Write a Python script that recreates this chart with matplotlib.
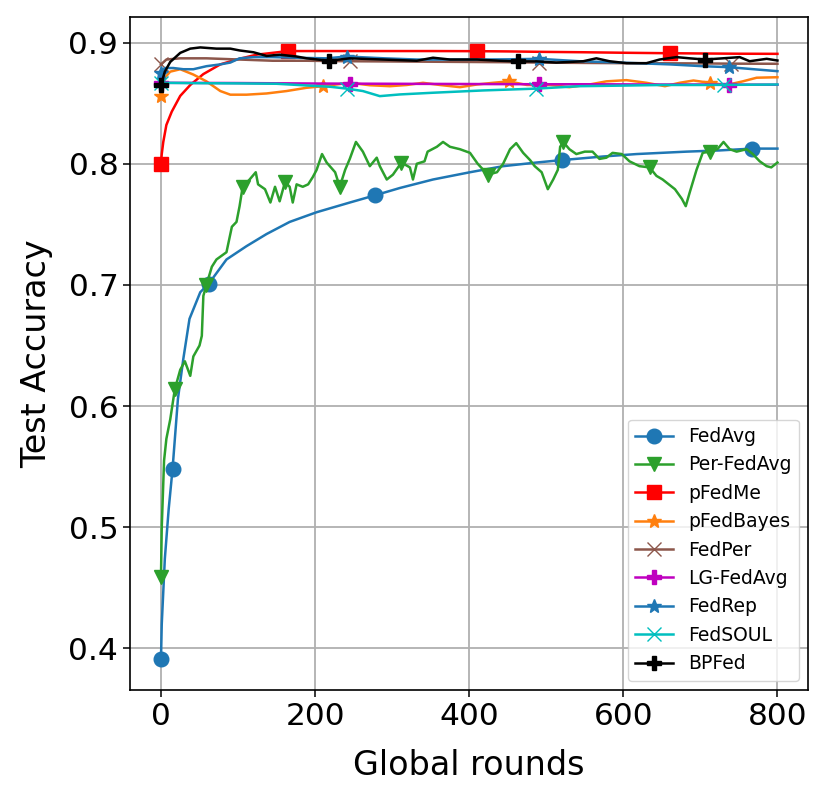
import matplotlib
matplotlib.use("Agg")
import matplotlib.pyplot as plt

# rondas y precision de cada metodo
x_fedavg = [0, 1, 5, 10, 15, 22, 29, 37, 51, 62, 85, 111, 137, 167, 202, 245, 278,
            310, 353, 401, 444, 487, 520, 574, 617, 682, 725, 767, 800]
y_fedavg = [0.391, 0.42, 0.474, 0.515, 0.548, 0.606, 0.639, 0.672, 0.694, 0.701, 0.721,
            0.732, 0.742, 0.752, 0.760, 0.768, 0.774, 0.780, 0.787, 0.793, 0.798, 0.801,
            0.803, 0.806, 0.808, 0.810, 0.811, 0.8125, 0.8125]

x_perfedavg = [0, 1, 4, 7, 12, 18, 25, 31, 38, 42, 50, 53, 55, 59, 66, 72, 85, 92, 98,
               102, 106, 115, 123, 126, 135, 142, 148, 154, 161, 167, 171, 176, 184, 191,
               197, 202, 209, 215, 226, 232, 239, 245, 253, 262, 271, 280, 284, 293, 301,
               312, 323, 327, 332, 342, 346, 358, 366, 375, 388, 401, 411, 424, 436, 444,
               453, 461, 470, 479, 485, 494, 502, 509, 515, 518, 522, 530, 539, 550, 560,
               569, 578, 586, 598, 608, 621, 634, 643, 651, 667, 676, 681, 686, 695, 703,
               712, 722, 730, 738, 747, 760, 768, 777, 786, 792, 800]
y_perfedavg = [0.459, 0.50, 0.555, 0.573, 0.589, 0.614, 0.630, 0.637, 0.625, 0.641, 0.650,
               0.658, 0.691, 0.700, 0.715, 0.721, 0.727, 0.748, 0.752, 0.765, 0.781, 0.787,
               0.793, 0.783, 0.779, 0.768, 0.781, 0.769, 0.785, 0.781, 0.768, 0.783, 0.781,
               0.783, 0.789, 0.795, 0.808, 0.801, 0.793, 0.781, 0.795, 0.804, 0.818, 0.810,
               0.798, 0.805, 0.798, 0.787, 0.791, 0.801, 0.797, 0.787, 0.800, 0.802, 0.810,
               0.814, 0.818, 0.814, 0.812, 0.809, 0.800, 0.791, 0.793, 0.800, 0.812, 0.817,
               0.809, 0.803, 0.798, 0.793, 0.779, 0.787, 0.795, 0.814, 0.818, 0.812, 0.808,
               0.810, 0.810, 0.804, 0.805, 0.809, 0.808, 0.802, 0.798, 0.797, 0.790, 0.787,
               0.779, 0.771, 0.765, 0.776, 0.795, 0.809, 0.810, 0.812, 0.818, 0.812, 0.810,
               0.812, 0.808, 0.802, 0.798, 0.797, 0.801]
# rondas donde aparecen los triangulos de Per-FedAvg (la curva original es mas ruidosa)
marcas_perfedavg = [0, 18, 59, 106, 161, 232, 312, 424, 522, 634, 712]

x_pfedme = [0, 1, 3, 7, 14, 25, 38, 55, 77, 98, 124, 165, 200, 250, 300, 350, 410, 450,
            500, 550, 600, 660, 700, 750, 800]
y_pfedme = [0.800, 0.808, 0.818, 0.832, 0.843, 0.856, 0.865, 0.874, 0.882, 0.886, 0.890,
            0.893, 0.893, 0.893, 0.893, 0.893, 0.8929, 0.8927, 0.8923, 0.892, 0.8916,
            0.8912, 0.891, 0.8908, 0.8907]

x_pfedbayes = [0, 5, 12, 25, 42, 59, 77, 90, 111, 137, 163, 189, 210, 245, 271, 297, 319,
               340, 362, 388, 410, 431, 451, 475, 505, 530, 556, 578, 604, 630, 654, 673,
               691, 712, 734, 755, 773, 800]
y_pfedbayes = [0.8555, 0.871, 0.876, 0.878, 0.8736, 0.868, 0.860, 0.857, 0.857, 0.858,
               0.860, 0.8627, 0.864, 0.8668, 0.8648, 0.864, 0.865, 0.8668, 0.865, 0.8632,
               0.8654, 0.8668, 0.868, 0.865, 0.865, 0.8632, 0.8654, 0.868, 0.869, 0.8668,
               0.864, 0.8668, 0.8687, 0.8668, 0.865, 0.868, 0.871, 0.8714]

x_fedper = [0, 7, 25, 59, 102, 145, 189, 245, 300, 350, 400, 450, 490, 550, 600, 650,
            700, 740, 800]
y_fedper = [0.882, 0.886, 0.887, 0.887, 0.886, 0.885, 0.885, 0.8846, 0.8844, 0.8842,
            0.884, 0.8838, 0.8835, 0.8832, 0.883, 0.8829, 0.8828, 0.8826, 0.8825]

x_lgfedavg = [0, 50, 100, 150, 200, 245, 300, 350, 400, 450, 490, 550, 600, 650, 700,
              737, 800]
y_lgfedavg = [0.8668, 0.8667, 0.8666, 0.8664, 0.8662, 0.8661, 0.866, 0.8659, 0.8658,
              0.8657, 0.8656, 0.8656, 0.8655, 0.8654, 0.8654, 0.8653, 0.8652]

x_fedrep = [0, 5, 16, 29, 42, 59, 77, 90, 102, 120, 145, 180, 215, 241, 290, 332, 375,
            418, 455, 490, 543, 573, 617, 660, 703, 737, 773, 800]
y_fedrep = [0.875, 0.879, 0.879, 0.878, 0.878, 0.8805, 0.882, 0.8835, 0.887, 0.888,
            0.888, 0.8874, 0.887, 0.8885, 0.887, 0.886, 0.886, 0.886, 0.8862, 0.8866,
            0.8846, 0.884, 0.883, 0.882, 0.8805, 0.8797, 0.8778, 0.8764]

x_fedsoul = [0, 50, 100, 150, 189, 220, 241, 262, 284, 310, 353, 418, 487, 543, 600,
             650, 700, 730, 765, 800]
y_fedsoul = [0.8668, 0.8665, 0.8663, 0.866, 0.8646, 0.8635, 0.862, 0.860, 0.8558, 0.8572,
             0.8586, 0.8605, 0.862, 0.864, 0.8645, 0.865, 0.865, 0.8651, 0.8652, 0.8654]

x_bpfed = [0, 5, 12, 25, 38, 51, 72, 90, 102, 120, 137, 154, 176, 189, 218, 245, 288,
           332, 353, 375, 410, 440, 463, 487, 513, 530, 548, 565, 582, 604, 630, 647,
           669, 686, 706, 729, 751, 764, 786, 800]
y_bpfed = [0.865, 0.876, 0.884, 0.8915, 0.895, 0.896, 0.895, 0.895, 0.8935, 0.892, 0.889,
           0.890, 0.8885, 0.887, 0.885, 0.887, 0.886, 0.885, 0.8875, 0.886, 0.886, 0.885,
           0.8845, 0.8845, 0.8835, 0.884, 0.8846, 0.887, 0.8846, 0.883, 0.883, 0.886,
           0.888, 0.887, 0.886, 0.887, 0.888, 0.8846, 0.8866, 0.8852]

series = [
    ("FedAvg", x_fedavg, y_fedavg, "#1f77b4", "o", 0.2),
    ("Per-FedAvg", x_perfedavg, y_perfedavg, "#2ca02c", "v",
     [x_perfedavg.index(r) for r in marcas_perfedavg]),
    ("pFedMe", x_pfedme, y_pfedme, "red", "s", 0.2),
    ("pFedBayes", x_pfedbayes, y_pfedbayes, "#ff7f0e", "*", 0.2),
    ("FedPer", x_fedper, y_fedper, "#8c564b", "x", 0.2),
    ("LG-FedAvg", x_lgfedavg, y_lgfedavg, "m", "P", 0.2),
    ("FedRep", x_fedrep, y_fedrep, "#1f77b4", "*", 0.2),
    ("FedSOUL", x_fedsoul, y_fedsoul, "c", "x", 0.2),
    ("BPFed", x_bpfed, y_bpfed, "k", "P", 0.2),
]

fig, ax = plt.subplots(figsize=(8.29, 8.01), dpi=100)
fig.subplots_adjust(left=0.157, right=0.975, bottom=0.1386, top=0.979)

for nombre, x, y, color, marker, cada in series:
    ax.plot(x, y, color=color, marker=marker, markersize=10.5, markevery=cada,
            linewidth=1.8, label=nombre)

ax.grid(color="#b0b0b0", linewidth=1.3)
ax.set_yticks([0.4, 0.5, 0.6, 0.7, 0.8, 0.9])
ax.set_xticks([0, 200, 400, 600, 800])
ax.tick_params(labelsize=22.5, length=5, width=1.1)
for s in ax.spines.values():
    s.set_linewidth(1.2)
ax.set_xlabel("Global rounds", fontsize=24, labelpad=13)
ax.set_ylabel("Test Accuracy", fontsize=24, labelpad=11)
ax.legend(loc="lower right", fontsize=13.5)

fig.savefig("out.png", dpi=100)
